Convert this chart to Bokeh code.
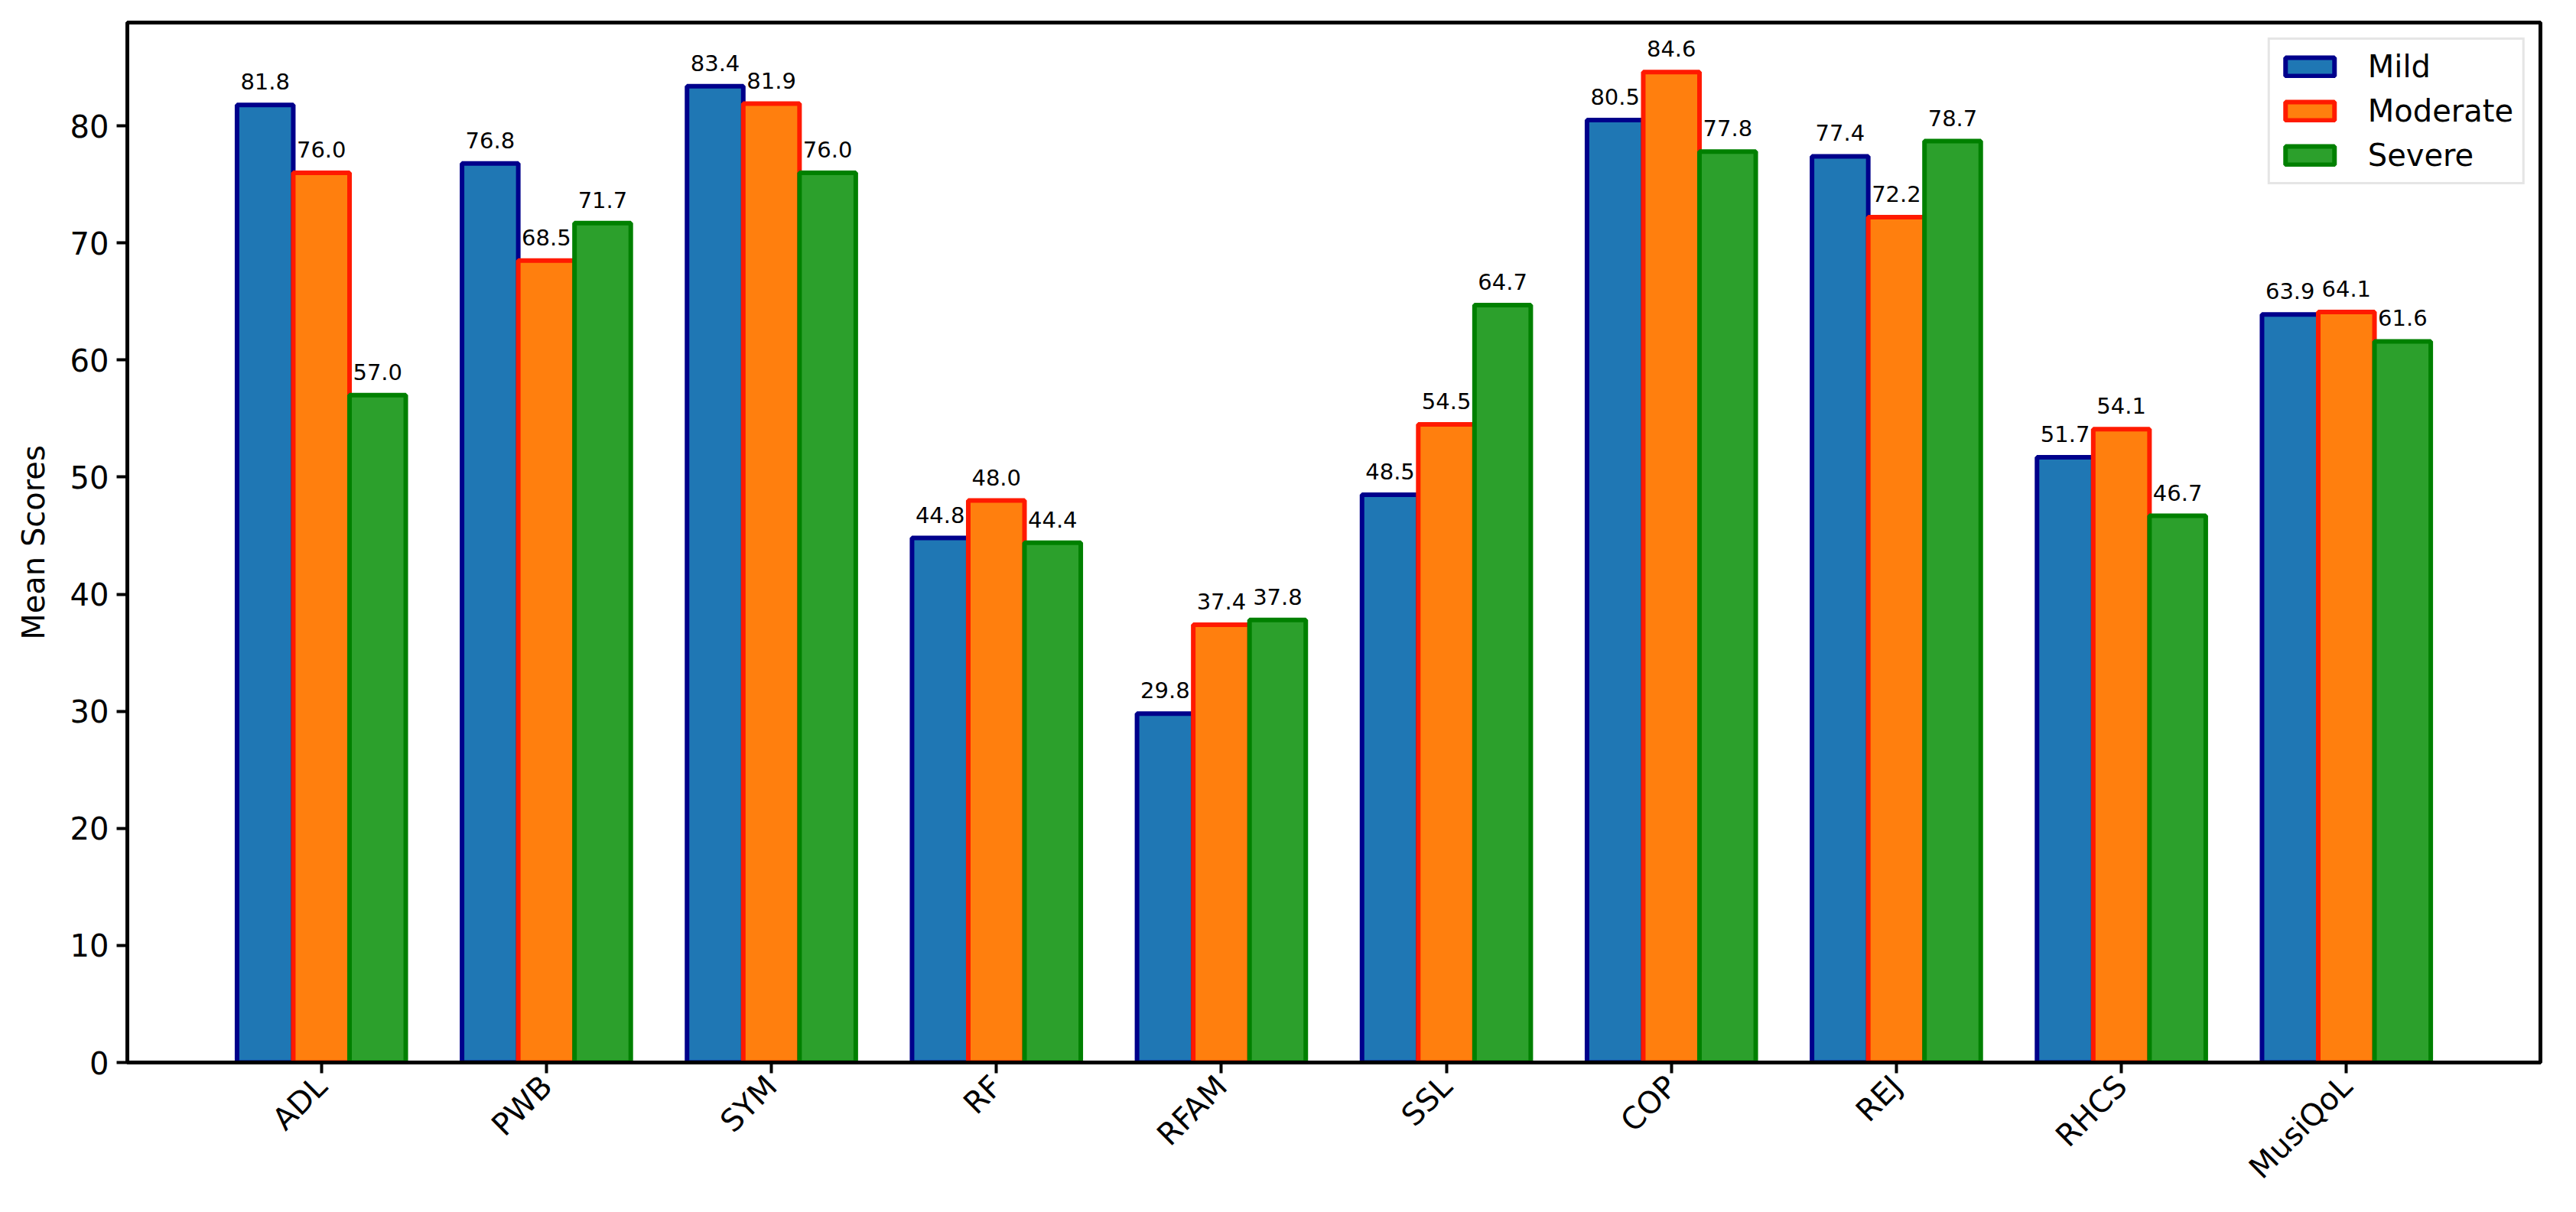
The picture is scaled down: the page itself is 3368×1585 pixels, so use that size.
import math
import numpy as np
from bokeh.plotting import figure
from bokeh.models import ColumnDataSource, Range1d, FixedTicker, Legend, LegendItem, LabelSet
from bokeh.core.properties import value
from bokeh.embed import file_html
from bokeh.resources import INLINE

categories = ["ADL", "PWB", "SYM", "RF", "RFAM", "SSL", "COP", "REJ", "RHCS", "MusiQoL"]
series_names = ["Mild", "Moderate", "Severe"]
mild = [81.8, 76.8, 83.4, 44.8, 29.8, 48.5, 80.5, 77.4, 51.7, 63.9]
moderate = [76.0, 68.5, 81.9, 48.0, 37.4, 54.5, 84.6, 72.2, 54.1, 64.1]
severe = [57.0, 71.7, 76.0, 44.4, 37.8, 64.7, 77.8, 78.7, 46.7, 61.6]
y_ticks = [0, 10, 20, 30, 40, 50, 60, 70, 80]

fills = ["#1f77b4", "#ff7f0e", "#2ca02c"]
edges = ["#00008b", "#ff1a00", "#008000"]
FONT = "DejaVu Sans"

p = figure(width=3352, height=1569, output_backend="svg", toolbar_location=None,
           x_range=Range1d(-0.8625, 9.8625), y_range=Range1d(0, 88.83))
p.min_border_left = 166
p.min_border_right = 31
p.min_border_top = 29
p.min_border_bottom = 177
p.xgrid.visible = False
p.ygrid.visible = False
p.outline_line_color = "black"
p.outline_line_width = 5
p.background_fill_color = "white"
p.border_fill_color = "white"

xs = np.arange(len(categories))
offsets = [-0.25, 0.0, 0.25]
items = []
for vals, name, fc, ec, off in zip([mild, moderate, severe], series_names, fills, edges, offsets):
    src = ColumnDataSource(dict(x=xs + off, top=vals, lab=[f"{v:.1f}" for v in vals]))
    r = p.vbar(x="x", top="top", width=0.25, bottom=0, source=src,
               fill_color=fc, line_color=ec, line_width=6)
    items.append(LegendItem(label=name, renderers=[r]))
    lbl = LabelSet(x="x", y="top", text="lab", source=src, text_align="center",
                   text_baseline="alphabetic", y_offset=20, text_font_size="29px",
                   text_font=value(FONT), text_color="black")
    p.add_layout(lbl)

legend = Legend(items=items, location="top_right")
legend.label_text_font = FONT
legend.label_text_font_size = "40px"
legend.label_text_color = "black"
legend.glyph_width = 80
legend.glyph_height = 30
legend.label_standoff = 36
legend.spacing = 12
legend.padding = 12
legend.margin = 20
legend.border_line_color = "#cccccc"
legend.border_line_width = 3
legend.background_fill_alpha = 1.0
p.add_layout(legend)

p.xaxis.ticker = FixedTicker(ticks=list(xs))
p.xaxis.major_label_overrides = {int(i): c for i, c in enumerate(categories)}
p.xaxis.major_label_orientation = math.pi / 4
p.yaxis.ticker = FixedTicker(ticks=y_ticks)
p.yaxis.axis_label = "Mean Scores"

for ax in (p.xaxis[0], p.yaxis[0]):
    ax.axis_line_width = 5
    ax.axis_line_color = "black"
    ax.major_tick_line_width = 4
    ax.major_tick_out = 14
    ax.major_tick_in = 0
    ax.minor_tick_line_color = None
    ax.major_label_text_font = FONT
    ax.major_label_text_font_size = "40px"
    ax.major_label_text_color = "black"
    ax.axis_label_text_font = FONT
    ax.axis_label_text_font_size = "40px"
    ax.axis_label_text_font_style = "normal"
    ax.axis_label_text_color = "black"
    ax.major_label_standoff = 10
p.yaxis[0].axis_label_standoff = 22

open("out.html", "w").write(file_html(p, INLINE))
